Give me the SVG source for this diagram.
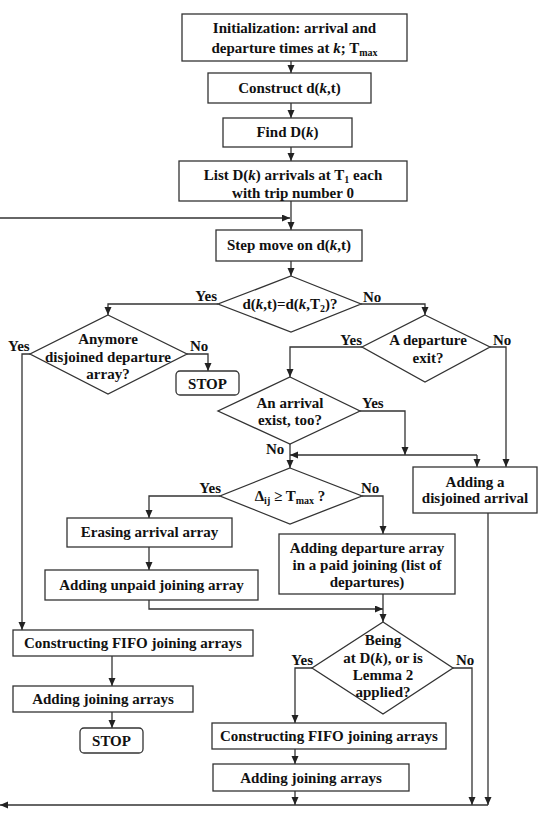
<svg xmlns="http://www.w3.org/2000/svg" width="538" height="816" viewBox="0 0 538 816">
<style>
.box{fill:#fff;stroke:#333;stroke-width:1.3}
.t{font-family:"Liberation Serif","Times New Roman",serif;font-weight:bold;font-size:15px;fill:#111;text-anchor:middle}
.l{font-family:"Liberation Serif","Times New Roman",serif;font-weight:bold;font-size:15px;fill:#111}
.c{fill:none;stroke:#333;stroke-width:1.3;marker-end:url(#ah)}
.i{font-style:italic}
.s{font-size:10px}
</style>
<defs>
<marker id="ah" markerUnits="userSpaceOnUse" markerWidth="8" markerHeight="8" refX="8" refY="3.5" orient="auto">
<path d="M0,0 L8,3.5 L0,7 z" fill="#222"/>
</marker>
</defs>
<rect width="538" height="816" fill="#fff"/>
<g id="connectors">
<path class="c" d="M291,61 V73"/>
<path class="c" d="M291,103 V118"/>
<path class="c" d="M291,147 V161"/>
<path class="c" d="M291,201 V230"/>
<path class="c" d="M0,218 H290"/>
<path class="c" d="M291,261 V276"/>
<path class="c" d="M218,304 H108 V315"/>
<path class="c" d="M361,304 H425 V315"/>
<path class="c" d="M187,354 H208 V371"/>
<path class="c" d="M30,354 H22 V630"/>
<path class="c" d="M362,347 H290 V377"/>
<path class="c" d="M490,347 H506 V467"/>
<path class="c" d="M360,411 H405 V455"/>
<path class="c" d="M290,444 V468"/>
<path class="c" d="M477,455 H290"/>
<path class="c" d="M477,455 V467"/>
<path class="c" d="M220,496 H149 V518"/>
<path class="c" d="M362,496 H383 V534"/>
<path class="c" d="M149,547 V570"/>
<path class="c" d="M149,600 V609 H383"/>
<path class="c" d="M383,594 V622"/>
<path class="c" d="M312,668 H295 V723"/>
<path class="c" d="M453,668 H472 V805"/>
<path class="c" d="M112,656 V686"/>
<path class="c" d="M112,712 V728"/>
<path class="c" d="M295,749 V764"/>
<path class="c" d="M295,791 V805"/>
<path class="c" d="M488,513 V805"/>
<path class="c" d="M488,805 H0"/>
</g>
<g id="init">
<rect class="box" x="182" y="14" width="225" height="47"/>
<text class="t" x="294.5" y="33">Initialization: arrival and</text>
<text class="t" x="294.5" y="53">departure times at <tspan class="i">k</tspan>; T<tspan class="s" dy="3">max</tspan></text>
</g>
<g id="construct">
<rect class="box" x="208" y="73" width="163" height="30"/>
<text class="t" x="289.5" y="93">Construct d(<tspan class="i">k</tspan>,t)</text>
</g>
<g id="find">
<rect class="box" x="223" y="118" width="129" height="29"/>
<text class="t" x="287.5" y="137">Find D(<tspan class="i">k</tspan>)</text>
</g>
<g id="list">
<rect class="box" x="179" y="161" width="228" height="40"/>
<text class="t" x="293" y="180">List D(<tspan class="i">k</tspan>) arrivals at T<tspan class="s" dy="3">1</tspan><tspan dy="-3"> each</tspan></text>
<text class="t" x="293" y="198">with trip number 0</text>
</g>
<g id="step">
<rect class="box" x="216" y="230" width="146" height="31"/>
<text class="t" x="289" y="250">Step move on d(<tspan class="i">k</tspan>,t)</text>
</g>
<g id="d1">
<polygon class="box" points="291,276 361,304 291,332 218,304"/>
<text class="t" x="290" y="309">d(<tspan class="i">k</tspan>,t)=d(<tspan class="i">k</tspan>,T<tspan class="s" dy="3">2</tspan><tspan dy="-3">)?</tspan></text>
<text class="l" x="217" y="301" text-anchor="end">Yes</text>
<text class="l" x="363" y="302">No</text>
</g>
<g id="anymore">
<polygon class="box" points="108,315 187,354 108,394 30,354"/>
<text class="t" x="108" y="344">Anymore</text>
<text class="t" x="108" y="362">disjoined departure</text>
<text class="t" x="108" y="379">array?</text>
<text class="l" x="8" y="351">Yes</text>
<text class="l" x="190" y="351">No</text>
</g>
<g id="stop1">
<rect class="box" x="176" y="371" width="63" height="24" rx="4"/>
<text class="t" x="207.5" y="389">STOP</text>
</g>
<g id="departure">
<polygon class="box" points="425,315 490,347 425,382 362,347"/>
<text class="t" x="428" y="345">A departure</text>
<text class="t" x="428" y="363">exit?</text>
<text class="l" x="362" y="345" text-anchor="end">Yes</text>
<text class="l" x="493" y="345">No</text>
</g>
<g id="arrival">
<polygon class="box" points="290,377 360,411 290,444 218,411"/>
<text class="t" x="290" y="408">An arrival</text>
<text class="t" x="290" y="425">exist, too?</text>
<text class="l" x="362" y="408">Yes</text>
<text class="l" x="266" y="454">No</text>
</g>
<g id="disjoined">
<rect class="box" x="413" y="467" width="124" height="46"/>
<text class="t" x="475" y="487">Adding a</text>
<text class="t" x="475" y="503">disjoined arrival</text>
</g>
<g id="delta">
<polygon class="box" points="290,468 362,496 290,524 220,496"/>
<text class="t" x="290" y="501">Δ<tspan class="s" dy="3">ij</tspan><tspan dy="-3"> ≥ T</tspan><tspan class="s" dy="3">max</tspan><tspan dy="-3"> ?</tspan></text>
<text class="l" x="221" y="493" text-anchor="end">Yes</text>
<text class="l" x="361" y="493">No</text>
</g>
<g id="erasing">
<rect class="box" x="67" y="518" width="165" height="29"/>
<text class="t" x="149.5" y="537">Erasing arrival array</text>
</g>
<g id="unpaid">
<rect class="box" x="45" y="570" width="213" height="30"/>
<text class="t" x="151.5" y="590">Adding unpaid joining array</text>
</g>
<g id="paid">
<rect class="box" x="279" y="534" width="176" height="60"/>
<text class="t" x="367" y="553">Adding departure array</text>
<text class="t" x="367" y="570">in a paid joining (list of</text>
<text class="t" x="367" y="587">departures)</text>
</g>
<g id="being">
<polygon class="box" points="383,622 453,668 383,714 312,668"/>
<text class="t" x="383" y="645">Being</text>
<text class="t" x="383" y="663">at D(<tspan class="i">k</tspan>), or is</text>
<text class="t" x="383" y="680">Lemma 2</text>
<text class="t" x="383" y="697">applied?</text>
<text class="l" x="313" y="665" text-anchor="end">Yes</text>
<text class="l" x="456" y="665">No</text>
</g>
<g id="fifo1">
<rect class="box" x="13" y="630" width="240" height="26"/>
<text class="t" x="133" y="648">Constructing FIFO joining arrays</text>
</g>
<g id="join1">
<rect class="box" x="13" y="686" width="180" height="26"/>
<text class="t" x="103" y="704">Adding joining arrays</text>
</g>
<g id="stop2">
<rect class="box" x="80" y="728" width="63" height="25" rx="4"/>
<text class="t" x="111.5" y="746">STOP</text>
</g>
<g id="fifo2">
<rect class="box" x="212" y="723" width="234" height="26"/>
<text class="t" x="329" y="741">Constructing FIFO joining arrays</text>
</g>
<g id="join2">
<rect class="box" x="213" y="764" width="196" height="27"/>
<text class="t" x="311" y="783">Adding joining arrays</text>
</g>
</svg>
